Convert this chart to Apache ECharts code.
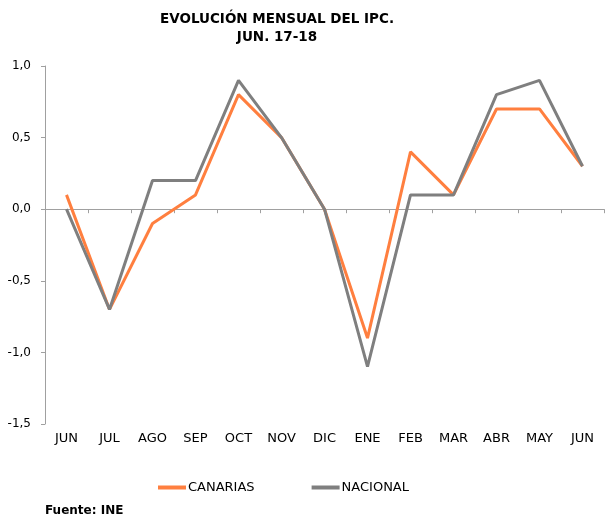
<!DOCTYPE html>
<html>
<head>
<meta charset="utf-8">
<script src="https://cdn.jsdelivr.net/npm/echarts@6/dist/echarts.min.js"></script>
<style>
  html, body { margin: 0; padding: 0; background: #fff; }
  #chart { width: 606px; height: 517px; }
</style>
</head>
<body>
<div id="chart"></div>
<script>
const meses    = ['JUN', 'JUL', 'AGO', 'SEP', 'OCT', 'NOV', 'DIC', 'ENE', 'FEB', 'MAR', 'ABR', 'MAY', 'JUN']
const canarias = [0.1, -0.7, -0.1, 0.1, 0.8, 0.5, 0.0, -0.9, 0.4, 0.1, 0.7, 0.7, 0.3]
const nacional = [0.0, -0.7, 0.2, 0.2, 0.9, 0.5, 0.0, -1.1, 0.1, 0.1, 0.8, 0.9, 0.3]

const fuente = 'DejaVu Sans, Verdana, sans-serif'
const chart = echarts.init(document.getElementById('chart'))

chart.setOption({
  animation: false,
  title: [{
    text     : 'EVOLUCIÓN MENSUAL DEL IPC.\nJUN. 17-18',
    left     : 272,
    top      : 5,
    textAlign: 'center',
    textStyle: { fontFamily: fuente, fontSize: 13.5, fontWeight: 'bold', color: '#000', lineHeight: 18 }
  }, {
    text     : 'Fuente: INE',
    left     : 40,
    top      : 500,
    textStyle: { fontFamily: fuente, fontSize: 12, fontWeight: 'bold', color: '#000' }
  }],
  legend: {
    bottom    : 18,
    left      : 153,
    itemGap   : 57,
    itemWidth : 28,
    itemHeight: 4,
    icon      : 'rect',
    textStyle : { fontFamily: fuente, fontSize: 13, color: '#000', padding: [0, 0, 0, -3] },
    data      : ['CANARIAS', 'NACIONAL']
  },
  grid: { left: 45, right: 2, top: 66, bottom: 93 },
  xAxis: [{
    // etiquetas abajo
    type       : 'category',
    data       : meses,
    position   : 'bottom',
    axisLine   : { show: false, onZero: false },
    axisTick   : { show: false },
    axisLabel  : { fontFamily: fuente, fontSize: 13, color: '#000', margin: 8 }
  }, {
    // linea del cero
    type     : 'category',
    data     : meses,
    position : 'bottom',
    axisLine : { onZero: true, lineStyle: { color: '#a0a0a0', width: 1 } },
    axisTick : { show: true, length: 4, lineStyle: { color: '#a0a0a0' } },
    axisLabel: { show: false }
  }],
  yAxis: {
    type     : 'value',
    min      : -1.5,
    max      : 1.0,
    interval : 0.5,
    axisLine : { show: true, lineStyle: { color: '#a0a0a0', width: 1 } },
    axisTick : { show: true, length: 4, lineStyle: { color: '#a0a0a0' } },
    splitLine: { show: false },
    axisLabel: {
      fontFamily: fuente, fontSize: 12, color: '#000', margin: 14,
      formatter: v => v.toFixed(1).replace('.', ',')
    }
  },
  series: [{
    name     : 'CANARIAS',
    type     : 'line',
    data     : canarias,
    symbol   : 'none',
    color    : '#ff7f3f',
    lineStyle: { width: 3, color: '#ff7f3f' }
  }, {
    name     : 'NACIONAL',
    type     : 'line',
    data     : nacional,
    symbol   : 'none',
    color    : '#7f7f7f',
    lineStyle: { width: 3, color: '#7f7f7f' }
  }]
})
</script>
</body>
</html>
